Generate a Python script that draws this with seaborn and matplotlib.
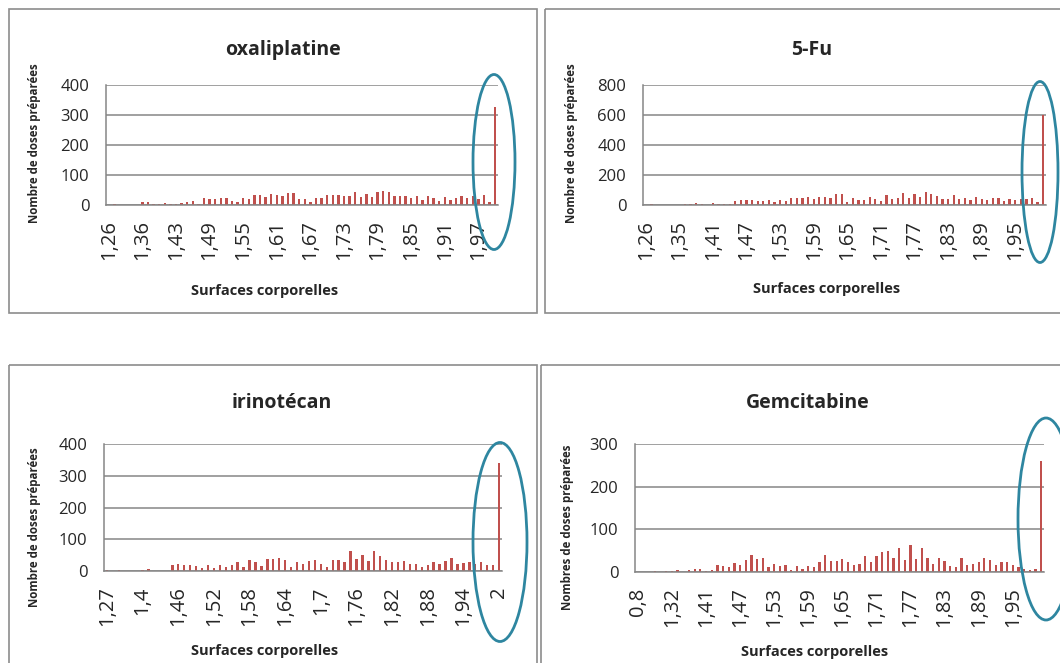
import numpy as np
import matplotlib
matplotlib.use("Agg")
import matplotlib.pyplot as plt
from matplotlib.patches import Ellipse, Rectangle
import seaborn as sns

# Surfaces corporelles (categories) and number of prepared doses per drug
oxa_cats = [1.26, 1.27, 1.29, 1.31, 1.33, 1.34, 1.36, 1.37, 1.38, 1.39, 1.40, 1.42,
            1.43, 1.44, 1.45, 1.46, 1.47, 1.48, 1.49, 1.50, 1.51, 1.52, 1.53, 1.54,
            1.55, 1.56, 1.57, 1.58, 1.59, 1.60, 1.61, 1.62, 1.63, 1.64, 1.65, 1.66,
            1.67, 1.68, 1.69, 1.70, 1.71, 1.72, 1.73, 1.74, 1.75, 1.76, 1.77, 1.78,
            1.79, 1.80, 1.81, 1.82, 1.83, 1.84, 1.85, 1.86, 1.87, 1.88, 1.89, 1.90,
            1.91, 1.92, 1.93, 1.94, 1.95, 1.96, 1.97, 1.98, 1.99, 2.00]
oxa_vals = [0, 3, 0, 0, 0, 0, 9, 9, 3, 2, 8, 3,
            4, 7, 10, 13, 5, 23, 19, 20, 25, 25, 14, 10,
            25, 20, 32, 32, 27, 37, 34, 30, 40, 40, 20, 20,
            10, 23, 23, 33, 33, 33, 29, 29, 44, 27, 38, 27,
            42, 46, 42, 30, 30, 31, 23, 29, 17, 31, 23, 13,
            27, 17, 24, 31, 25, 31, 21, 34, 10, 328]

fu_cats = [1.26, 1.27, 1.28, 1.30, 1.32, 1.33, 1.35, 1.36, 1.37, 1.38, 1.39, 1.40,
           1.41, 1.42, 1.43, 1.44, 1.45, 1.46, 1.47, 1.48, 1.49, 1.50, 1.51, 1.52,
           1.53, 1.54, 1.55, 1.56, 1.57, 1.58, 1.59, 1.60, 1.61, 1.62, 1.63, 1.64,
           1.65, 1.66, 1.67, 1.68, 1.69, 1.70, 1.71, 1.72, 1.73, 1.74, 1.75, 1.76,
           1.77, 1.78, 1.79, 1.80, 1.81, 1.82, 1.83, 1.84, 1.85, 1.86, 1.87, 1.88,
           1.89, 1.90, 1.91, 1.92, 1.93, 1.94, 1.95, 1.96, 1.97, 1.98, 1.99, 2.00]
fu_vals = [0, 4, 0, 0, 0, 0, 0, 9, 9, 13, 7, 2,
           13, 4, 4, 7, 27, 35, 31, 35, 29, 27, 35, 18,
           35, 24, 44, 44, 48, 51, 37, 51, 55, 46, 73, 73,
           22, 46, 31, 35, 51, 40, 27, 64, 40, 49, 77, 49,
           75, 53, 88, 73, 57, 42, 38, 68, 40, 46, 35, 51,
           38, 31, 46, 49, 24, 38, 31, 40, 42, 46, 22, 600]

iri_cats = [1.27, 1.30, 1.32, 1.34, 1.36, 1.38, 1.40, 1.41, 1.42, 1.43, 1.44, 1.45,
            1.46, 1.47, 1.48, 1.49, 1.50, 1.51, 1.52, 1.53, 1.54, 1.55, 1.56, 1.57,
            1.58, 1.59, 1.60, 1.61, 1.62, 1.63, 1.64, 1.65, 1.66, 1.67, 1.68, 1.69,
            1.70, 1.71, 1.72, 1.73, 1.74, 1.75, 1.76, 1.77, 1.78, 1.79, 1.80, 1.81,
            1.82, 1.83, 1.84, 1.85, 1.86, 1.87, 1.88, 1.89, 1.90, 1.91, 1.92, 1.93,
            1.94, 1.95, 1.96, 1.97, 1.98, 1.99, 2.00]
iri_vals = [3, 0, 3, 0, 0, 0, 3, 7, 0, 0, 0, 19,
            21, 18, 19, 17, 10, 20, 10, 19, 14, 20, 27, 13,
            34, 28, 17, 39, 39, 42, 35, 14, 29, 22, 31, 36,
            21, 12, 36, 34, 29, 62, 37, 51, 33, 64, 48, 35,
            27, 27, 32, 22, 23, 13, 20, 27, 23, 30, 42, 22,
            26, 27, 22, 28, 18, 18, 340]

gem_cats = [0.80, 1.16, 1.22, 1.25, 1.28, 1.30, 1.32, 1.34, 1.36, 1.37, 1.38, 1.40,
            1.41, 1.42, 1.43, 1.44, 1.45, 1.46, 1.47, 1.48, 1.49, 1.50, 1.51, 1.52,
            1.53, 1.54, 1.55, 1.56, 1.57, 1.58, 1.59, 1.60, 1.61, 1.62, 1.63, 1.64,
            1.65, 1.66, 1.67, 1.68, 1.69, 1.70, 1.71, 1.72, 1.73, 1.74, 1.75, 1.76,
            1.77, 1.78, 1.79, 1.80, 1.81, 1.82, 1.83, 1.84, 1.85, 1.86, 1.87, 1.88,
            1.89, 1.90, 1.91, 1.92, 1.93, 1.94, 1.95, 1.96, 1.97, 1.98, 1.99, 2.00]
gem_vals = [0, 1, 0, 2, 0, 3, 3, 5, 0, 4, 7, 7,
            2, 4, 17, 13, 11, 20, 17, 27, 40, 30, 32, 11,
            19, 14, 17, 5, 14, 7, 15, 11, 24, 40, 25, 26,
            31, 24, 16, 19, 38, 24, 37, 47, 50, 33, 57, 27,
            64, 31, 56, 33, 18, 32, 25, 15, 11, 33, 16, 18,
            24, 32, 27, 16, 24, 24, 16, 11, 7, 5, 7, 260]

BAR = "#C0504D"
GRID = "#868686"
RING = "#2E86A0"

sns.set_theme(style="white")
plt.rcParams['font.family'] = ['Open Sans', 'DejaVu Sans']

W, H = 1060, 663
fig = plt.figure(figsize=(W / 100, H / 100), dpi=100)


def px_axes(l, t, r, b):
    return fig.add_axes([l / W, 1 - b / H, (r - l) / W, (b - t) / H])


def draw(ax, cats, vals, ymax, ystep):
    labels = [f"{c:g}".replace('.', ',') for c in cats]
    n = len(labels)
    sns.barplot(x=labels, y=vals, order=labels, ax=ax, color=BAR,
                width=0.4, saturation=1, linewidth=0, antialiased=False)
    ax.set_xlim(-0.5, n - 0.5)
    ax.set_ylim(0, ymax)
    ax.set_yticks(np.arange(0, ymax + 1, ystep))
    ax.set_xticks(range(0, n, 6))
    ax.set_xticklabels(labels[::6], rotation=90)
    ax.set_xticks(np.arange(-0.5, n, 1), minor=True)
    ax.tick_params(axis='x', which='major', length=0, pad=11, labelsize=14.5)
    ax.tick_params(axis='x', which='minor', length=5, width=1.1,
                   color=GRID, direction='out')
    ax.tick_params(axis='y', length=6, width=1.1, color=GRID, labelsize=12, pad=6)
    ax.yaxis.grid(True, color=GRID, lw=1.1)
    ax.set_axisbelow(True)
    for s in ['top', 'right']:
        ax.spines[s].set_visible(False)
    for s in ['left', 'bottom']:
        ax.spines[s].set_color(GRID)
        ax.spines[s].set_linewidth(1.1)
    ax.set_xlabel('')
    ax.set_ylabel('')


def ftext(x, y, s, **kw):
    fig.text(x / W, 1 - y / H, s, ha='center', va='center', **kw)


ax1 = px_axes(106, 85, 498, 205)
draw(ax1, oxa_cats, oxa_vals, 400, 100)
ax2 = px_axes(643, 85, 1046, 205)
draw(ax2, fu_cats, fu_vals, 800, 200)
ax3 = px_axes(104, 444, 502, 571)
draw(ax3, iri_cats, iri_vals, 400, 100)
ax4 = px_axes(635, 444, 1044, 572)
draw(ax4, gem_cats, gem_vals, 300, 100)

ftext(283, 50, "oxaliplatine", fontsize=14, fontweight='bold')
ftext(812, 50, "5-Fu", fontsize=14, fontweight='bold')
ftext(282, 403, "irinotécan", fontsize=14, fontweight='bold')
ftext(808, 403, "Gemcitabine", fontsize=14, fontweight='bold')

ftext(35, 143, "Nombre de doses préparées", fontsize=8.3, fontweight='bold', rotation=90)
ftext(572, 143, "Nombre de doses préparées", fontsize=8.3, fontweight='bold', rotation=90)
ftext(35, 527, "Nombre de doses préparées", fontsize=8.3, fontweight='bold', rotation=90)
ftext(567, 527, "Nombres de doses préparées", fontsize=8.3, fontweight='bold', rotation=90)

ftext(265, 291, "Surfaces corporelles", fontsize=10.5, fontweight='bold')
ftext(827, 289, "Surfaces corporelles", fontsize=10.5, fontweight='bold')
ftext(265, 651, "Surfaces corporelles", fontsize=10.5, fontweight='bold')
ftext(815, 652, "Surfaces corporelles", fontsize=10.5, fontweight='bold')

# frames and highlight rings drawn on a pixel overlay
ov = fig.add_axes([0, 0, 1, 1], zorder=10)
ov.set_xlim(0, W)
ov.set_ylim(H, 0)
ov.axis('off')
ov.patch.set_alpha(0)
for (x0, y0, x1, y1) in [(9, 9, 537, 313), (545, 9, 1065, 313),
                         (9, 365, 537, 670), (541, 365, 1065, 670)]:
    ov.add_patch(Rectangle((x0, y0), x1 - x0, y1 - y0, fill=False,
                           edgecolor="#8c8c8c", lw=1.2))
for (cx, cy, w, h) in [(494, 162, 42, 175), (1040, 172, 36, 181),
                       (500, 542, 54, 199), (1046, 519, 56, 202)]:
    ov.add_patch(Ellipse((cx, cy), w, h, fill=False, edgecolor=RING, lw=2))

fig.savefig("out.png", dpi=100)
